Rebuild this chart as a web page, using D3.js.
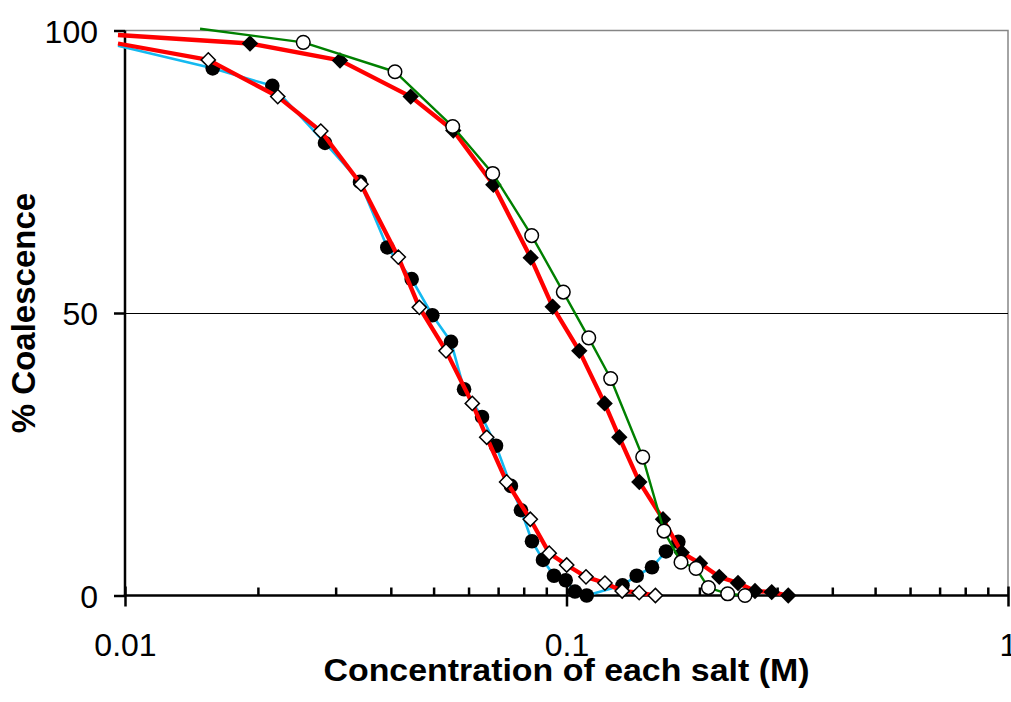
<!DOCTYPE html>
<html>
<head>
<meta charset="utf-8">
<script src="https://cdn.jsdelivr.net/npm/d3@7"></script>
<style>
  html, body { margin: 0; padding: 0; background: #fff; }
  svg { display: block; font-family: "Liberation Sans", Arial, Helvetica, sans-serif; }
</style>
</head>
<body>
<svg id="chart" width="1011" height="702"></svg>
<script>
// Salt A alone: filled circles, light-blue line
const saltAX = [0.0158, 0.02156, 0.02838, 0.03406, 0.03928, 0.0446, 0.04967, 0.05475, 0.05861, 0.06437,
                0.06924, 0.07484, 0.07886, 0.08353, 0.08846, 0.0937, 0.09958, 0.1045, 0.1111, 0.1339,
                0.1442, 0.1562, 0.168, 0.1792];
const saltAY = [93.3, 90.2, 80.1, 73.2, 61.6, 56.0, 49.6, 44.9, 36.5, 31.6,
                26.5, 19.4, 15.1, 9.6, 6.3, 3.5, 2.7, 0.7, 0, 1.8,
                3.5, 5.0, 7.8, 9.5];

// Salt B alone: open diamonds, red line
const saltBX = [0.01544, 0.02218, 0.02776, 0.03424, 0.04159, 0.04641, 0.05335, 0.06118, 0.06597, 0.07318,
                0.08279, 0.09138, 0.1001, 0.1107, 0.1222, 0.1337, 0.1461, 0.159];
const saltBY = [94.8, 88.3, 82.2, 72.8, 59.9, 51.0, 43.3, 34.0, 28.0, 20.1,
                13.5, 7.5, 5.4, 3.3, 2.2, 0.8, 0.5, 0];

// Mixture, predicted: filled diamonds, red line
const mixPredX = [0.01919, 0.03069, 0.04437, 0.05541, 0.06828, 0.08296, 0.09306, 0.1069, 0.122, 0.1317,
                  0.1462, 0.1654, 0.1824, 0.2006, 0.2218, 0.2446, 0.2673, 0.2916, 0.3179];
const mixPredY = [97.7, 94.7, 88.3, 82.3, 72.7, 59.8, 51.1, 43.3, 34.0, 28.0,
                  20.1, 13.5, 7.6, 5.7, 3.3, 2.2, 0.8, 0.6, 0];

// Mixture, measured: open circles, green line
const mixMeasX = [0.02534, 0.04088, 0.05524, 0.06806, 0.0834, 0.09834, 0.1123, 0.1259, 0.1488, 0.1663,
                  0.1817, 0.1965, 0.2096, 0.2318, 0.2537];
const mixMeasY = [97.9, 92.7, 83.0, 74.7, 63.7, 53.7, 45.6, 38.4, 24.5, 11.4,
                  5.9, 4.8, 1.4, 0.3, 0];

// First point of each line (drawn without a marker)
const lineStartX = [0.00964, 0.00964, 0.00964, 0.01479];
const lineStartY = [97.3, 97.7, 99.2, 100.3];

// Axis ticks
const xMajorTicks = [0.01, 0.1, 1];
const xTickLabels = ["0.01", "0.1", "1"];
const yTicks = [0, 50, 100];
const yTickLabels = ["0", "50", "100"];

const xTitle = "Concentration of each salt (M)";
const yTitle = "% Coalescence";

const svg = d3.select("#chart");
const L = 125, R = 1008, T = 30.5, B = 595.5;

const x = d3.scaleLog().domain([0.01, 1]).range([L, R]);
const y = d3.scaleLinear().domain([0, 100]).range([B, T]);

// plot-area border (top and right), gridline at 50
svg.append("path")
  .attr("d", `M${L},${T}H${R}V${B}`)
  .attr("fill", "none").attr("stroke", "#868686").attr("stroke-width", 1.5);

svg.append("line")
  .attr("x1", L).attr("x2", R).attr("y1", y(50) + 0.5).attr("y2", y(50) + 0.5)
  .attr("stroke", "#000").attr("stroke-width", 1)
  .attr("shape-rendering", "crispEdges");

// minor x ticks, pointing inward
const xMinorTicks = [];
[0.01, 0.1].forEach(d => { for (let k = 2; k <= 9; k++) xMinorTicks.push(d * k); });
const minorAxis = d3.axisBottom(x).tickValues(xMinorTicks).tickSize(-8).tickFormat("");
const gMinor = svg.append("g").attr("transform", `translate(0,${B})`).call(minorAxis);
gMinor.select(".domain").remove();
gMinor.selectAll("line").attr("stroke", "#000").attr("stroke-width", 2.5);

// major x ticks crossing the axis, with labels
const majorAxis = d3.axisBottom(x).tickValues(xMajorTicks).tickSize(11)
  .tickFormat((d, i) => xTickLabels[i]);
const gMajor = svg.append("g").attr("transform", `translate(0,${B})`).call(majorAxis);
gMajor.select(".domain").remove();
gMajor.selectAll("line").attr("y1", -9).attr("stroke", "#000").attr("stroke-width", 2.5);
gMajor.selectAll("text")
  .attr("y", 60.5).attr("dy", null)
  .attr("font-size", 32).attr("fill", "#000")
  .attr("font-family", "'Liberation Sans', Arial, sans-serif");

// y axis
const yAxis = d3.axisLeft(y).tickValues(yTicks).tickSize(11)
  .tickFormat((d, i) => yTickLabels[i]);
const gY = svg.append("g").attr("transform", `translate(${L},0)`).call(yAxis);
gY.select(".domain").remove();
gY.selectAll("line").attr("stroke", "#000").attr("stroke-width", 2.5);
gY.selectAll("text")
  .attr("x", -27).attr("dy", "0.36em")
  .attr("font-size", 32).attr("fill", "#000")
  .attr("font-family", "'Liberation Sans', Arial, sans-serif");

// axis lines
svg.append("line").attr("x1", L).attr("x2", L).attr("y1", T).attr("y2", B)
  .attr("stroke", "#000").attr("stroke-width", 2.5);
svg.append("line").attr("x1", L - 1.2).attr("x2", R).attr("y1", B).attr("y2", B)
  .attr("stroke", "#000").attr("stroke-width", 2.5);

// series
const series = [
  { xs: saltAX, ys: saltAY, color: "#14b9f0", width: 2.6, marker: "circle", fill: "#000" },
  { xs: saltBX, ys: saltBY, color: "#ff0000", width: 4.3, marker: "diamond", fill: "#fff" },
  { xs: mixPredX, ys: mixPredY, color: "#ff0000", width: 4.3, marker: "diamond", fill: "#000" },
  { xs: mixMeasX, ys: mixMeasY, color: "#008000", width: 2.4, marker: "circle", fill: "#fff" }
];

const line = d3.line().x(d => x(d[0])).y(d => y(d[1]));

series.forEach((s, i) => {
  const pts = s.xs.map((v, j) => [v, s.ys[j]]);
  const g = svg.append("g");
  g.append("path")
    .datum([[lineStartX[i], lineStartY[i]]].concat(pts))
    .attr("d", line)
    .attr("fill", "none")
    .attr("stroke", s.color)
    .attr("stroke-width", s.width)
    .attr("stroke-linejoin", "round");

  const open = s.fill === "#fff";
  if (s.marker === "circle") {
    g.selectAll("circle").data(pts).join("circle")
      .attr("cx", d => x(d[0])).attr("cy", d => y(d[1]))
      .attr("r", open ? 6.8 : 7.3)
      .attr("fill", s.fill)
      .attr("stroke", "#000").attr("stroke-width", open ? 1.5 : 0);
  } else {
    const h = open ? 7.1 : 8.2;
    g.selectAll("path.m").data(pts).join("path").attr("class", "m")
      .attr("d", d => {
        const cx = x(d[0]), cy = y(d[1]);
        return `M${cx},${cy - h}L${cx + h},${cy}L${cx},${cy + h}L${cx - h},${cy}Z`;
      })
      .attr("fill", s.fill)
      .attr("stroke", "#000").attr("stroke-width", open ? 1.5 : 0);
  }
});

// axis titles
svg.append("text")
  .attr("transform", `translate(${(L + R) / 2},681) scale(1.06,1)`)
  .attr("text-anchor", "middle")
  .attr("font-size", 32).attr("font-weight", "bold")
  .text(xTitle);

svg.append("text")
  .attr("transform", `translate(34.5,${(T + B) / 2}) rotate(-90)`)
  .attr("text-anchor", "middle")
  .attr("font-size", 33).attr("font-weight", "bold")
  .text(yTitle);
</script>
</body>
</html>
